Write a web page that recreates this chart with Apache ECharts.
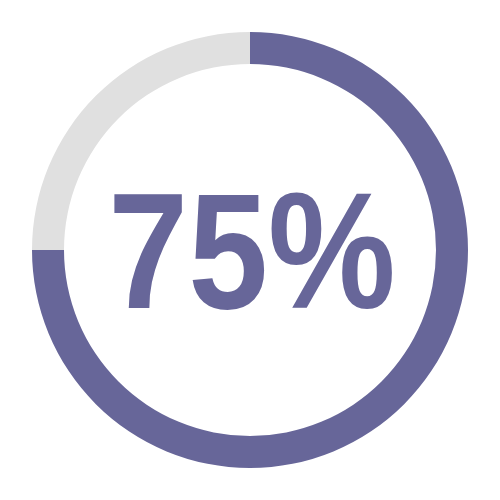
<!DOCTYPE html>
<html>
<head>
<meta charset="utf-8">
<script src="https://cdn.jsdelivr.net/npm/echarts@6/dist/echarts.min.js"></script>
<style>
  html, body { margin: 0; padding: 0; background: #fff; }
  #chart { width: 500px; height: 500px; }
</style>
</head>
<body>
<div id="chart"></div>
<script>
const names = ['done', 'rest'];
const values = [75, 25];
const colors = ['#676699', '#e0e0e0'];

const chart = echarts.init(document.getElementById('chart'));

chart.setOption({
  animation: false,
  graphic: [{
    type: 'text',
    x: 252,
    y: 262,
    scaleX: 0.87,
    silent: true,
    style: {
      text: values[0] + '%',
      fill: '#676699',
      fontFamily: 'Liberation Sans, Arial, sans-serif',
      fontWeight: 'bold',
      fontSize: 165,
      textAlign: 'center',
      textVerticalAlign: 'middle'
    }
  }],
  series: [{
    type: 'pie',
    center: ['50%', '50%'],
    radius: ['74.4%', '87.2%'],
    startAngle: 90,
    clockwise: true,
    silent: true,
    label: { show: false },
    labelLine: { show: false },
    data: names.map((n, i) => ({
      name: n,
      value: values[i],
      itemStyle: { color: colors[i] }
    }))
  }]
});
</script>
</body>
</html>
